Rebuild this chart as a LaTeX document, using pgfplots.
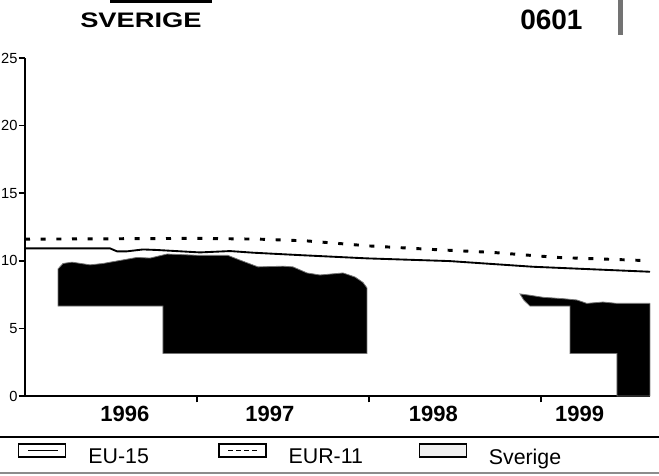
\documentclass[border=0pt]{standalone}
\usepackage{pgfplots}
\pgfplotsset{compat=1.18}
\usepackage{fontspec}
\setmainfont{Liberation Sans}
\begin{document}
\begin{tikzpicture}
\begin{axis}[
  at={(18.75pt,59.25pt)}, anchor=south west,
  scale only axis, width=468.75pt, height=253.5pt,
  xmin=1996, xmax=1999.634, ymin=0, ymax=25,
  axis x line*=bottom, axis y line*=left,
  axis line style={line width=1.5pt},
  ytick={0,5,10,15,20,25},
  xtick={1997,1998,1999}, xticklabels={},
  extra x ticks={1996.581,1997.424,1998.374,1999.225},
  extra x tick labels={1996,1997,1998,1999},
  extra x tick style={major tick length=0pt},
  tick align=outside, major tick length=4.8pt,
  tick style={line width=1.1pt, black},
  xticklabel style={font=\bfseries\fontsize{16.5}{19}\selectfont, yshift=-4pt},
  yticklabel style={font=\fontsize{11}{13}\selectfont, inner xsep=0.6pt},
  /pgf/number format/assume math mode=true,
  legend columns=3,
  legend cell align=left,
  legend style={at={(-0.0112,-0.1740)}, anchor=west, draw=none, fill=none,
    font=\fontsize{16}{19}\selectfont, inner sep=0pt, column sep=0pt,
    nodes={inner sep=0pt}},
]
% legend images
\addlegendimage{legend image code/.code={
  \draw[line width=0.9pt, fill=white] (0pt,0.3pt) rectangle (35.25pt,10.05pt);
  \draw[line width=0.9pt] (6.75pt,5.2pt) -- (29.25pt,5.2pt);}}
\addlegendentry{\makebox[114pt][l]{\hspace{16.5pt}EU-15}}
\addlegendimage{legend image code/.code={
  \draw[line width=0.9pt, fill=white] (0pt,0.3pt) rectangle (35.25pt,10.05pt);
  \draw[line width=0.9pt, dash pattern=on 3.5pt off 2.5pt] (6.75pt,5.2pt) -- (30pt,5.2pt);}}
\addlegendentry{\makebox[114pt][l]{\hspace{16.5pt}EUR-11}}
\addlegendimage{legend image code/.code={
  \draw[line width=0.9pt, fill=black!6] (0pt,0.3pt) rectangle (35.25pt,10.05pt);}}
\addlegendentry{\makebox[114pt][l]{\hspace{16.5pt}Sverige}}

% Sverige (filled area, as scanned)
\addplot[forget plot, fill=black, draw=black!55, line width=0.6pt] coordinates {
(1996.192,6.65) (1996.192,9.4) (1996.221,9.8) (1996.273,9.9) (1996.378,9.7)
(1996.453,9.8) (1996.651,10.25) (1996.727,10.2) (1996.826,10.5) (1997.017,10.4)
(1997.180,10.4) (1997.250,10.05) (1997.355,9.55) (1997.500,9.6) (1997.558,9.55)
(1997.640,9.1) (1997.715,8.95) (1997.849,9.1) (1997.919,8.8) (1997.965,8.4)
(1997.988,8.0) (1997.988,3.15) (1996.802,3.15) (1996.802,6.65)
} --cycle;
\addplot[forget plot, fill=black, draw=black!55, line width=0.6pt] coordinates {
(1998.878,7.55) (1998.936,7.45) (1999.012,7.3) (1999.128,7.2) (1999.209,7.1)
(1999.267,6.85) (1999.360,6.95) (1999.442,6.85) (1999.634,6.85) (1999.634,0)
(1999.442,0) (1999.442,3.15) (1999.169,3.15) (1999.169,6.65) (1998.936,6.65)
(1998.900,7.1)
} --cycle;

% EU-15
\addplot[forget plot, black, line width=1.4pt] coordinates {
(1996.000,10.92) (1996.494,10.92) (1996.535,10.7) (1996.593,10.7) (1996.686,10.84)
(1996.767,10.8) (1997.017,10.62) (1997.192,10.72) (1997.326,10.6) (1997.599,10.42)
(1997.988,10.18) (1998.468,9.98) (1998.953,9.56) (1999.634,9.19)
};
% EUR-11
\addplot[forget plot, black, line width=2.2pt, dash pattern=on 3.75pt off 8pt] coordinates {
(1996.000,11.6) (1997.017,11.66) (1997.366,11.6) (1997.640,11.47) (1998.000,11.1)
(1998.368,10.84) (1998.719,10.62) (1999.094,10.25) (1999.538,10.05) (1999.634,10.0)
};
\end{axis}
\begin{scope}[x=0.75pt,y=0.75pt]
\node[anchor=base west, inner sep=0pt, font=\bfseries\fontsize{15.75}{18}\selectfont]
  at (80,447) {\scalebox{1.3}[1]{SVERIGE}};
\node[anchor=base west, inner sep=0pt, font=\bfseries\fontsize{21}{24}\selectfont]
  at (520,445) {0601};
\fill[black] (110,471.5) rectangle (212,475);
\fill[black!55] (618,440) rectangle (623,475);
\draw[line width=1.3pt] (0,38) -- (659,38);
\draw[black!45, line width=0.9pt] (0,2) -- (659,2);
\end{scope}
\pgfresetboundingbox
\path[use as bounding box] (0,0) rectangle (494.25pt,356.25pt);
\end{tikzpicture}
\end{document}
